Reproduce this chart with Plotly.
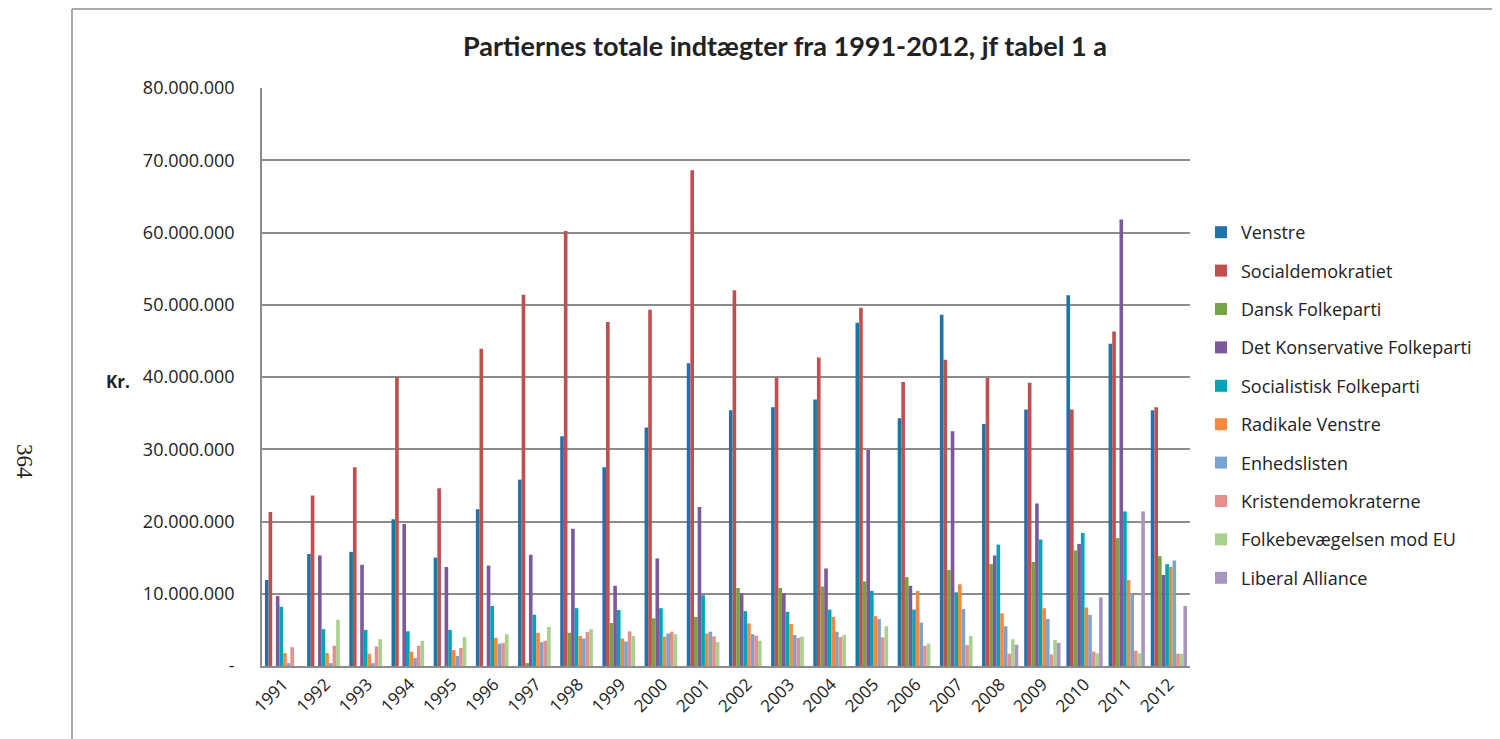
import plotly.graph_objects as go

years = [str(y) for y in range(1991, 2013)]

venstre = [11.9, 15.5, 15.8, 20.3, 15.0, 21.7, 25.8, 31.8, 27.5, 33.0, 41.9, 35.4, 35.8, 36.9, 47.5, 34.3, 48.6, 33.5, 35.5, 51.3, 44.6, 35.4]
socialdemokratiet = [21.3, 23.6, 27.5, 40.0, 24.6, 43.9, 51.4, 60.2, 47.6, 49.3, 68.6, 52.0, 39.9, 42.7, 49.6, 39.3, 42.4, 39.9, 39.2, 35.5, 46.3, 35.8]
dansk_folkeparti = [0, 0, 0, 0, 0, 0, 0.4, 4.6, 5.95, 6.6, 6.8, 10.8, 10.8, 11.0, 11.7, 12.3, 13.3, 14.1, 14.4, 16.0, 17.7, 15.2]
konservative = [9.7, 15.3, 14.0, 19.65, 13.7, 13.9, 15.4, 19.0, 11.1, 14.9, 22.0, 10.1, 10.1, 13.5, 29.9, 11.1, 32.5, 15.3, 22.5, 16.9, 61.8, 12.6]
sf = [8.2, 5.1, 5.0, 4.8, 5.0, 8.3, 7.1, 8.0, 7.75, 8.0, 9.8, 7.6, 7.5, 7.8, 10.4, 7.8, 10.2, 16.8, 17.5, 18.4, 21.4, 14.1]
radikale = [1.8, 1.8, 1.7, 2.0, 2.2, 3.9, 4.6, 4.15, 3.8, 4.06, 4.5, 5.9, 5.8, 6.8, 6.9, 10.4, 11.3, 7.3, 8.0, 8.1, 11.9, 13.7]
enhedslisten = [0.4, 0.4, 0.4, 1.1, 1.4, 3.1, 3.3, 3.8, 3.4, 4.5, 4.75, 4.4, 4.3, 4.75, 6.5, 6.0, 7.9, 5.5, 6.5, 7.06, 10.0, 14.6]
kristendemokraterne = [2.6, 2.8, 2.7, 2.8, 2.5, 3.2, 3.5, 4.7, 4.8, 4.75, 4.1, 4.2, 3.9, 4.0, 3.97, 2.8, 2.9, 1.7, 1.6, 2.0, 2.1, 1.7]
folkebevaegelsen = [0, 6.4, 3.7, 3.5, 4.0, 4.4, 5.4, 5.1, 4.15, 4.4, 3.3, 3.5, 4.06, 4.3, 5.5, 3.1, 4.15, 3.7, 3.6, 1.75, 1.75, 1.7]
liberal_alliance = [0, 0, 0, 0, 0, 0, 0, 0, 0, 0, 0, 0, 0, 0, 0, 0, 0, 2.95, 3.2, 9.5, 21.4, 8.3]

series_names = ["Venstre", "Socialdemokratiet", "Dansk Folkeparti", "Det Konservative Folkeparti",
                "Socialistisk Folkeparti", "Radikale Venstre", "Enhedslisten", "Kristendemokraterne",
                "Folkebevægelsen mod EU", "Liberal Alliance"]
series_values = [venstre, socialdemokratiet, dansk_folkeparti, konservative, sf, radikale,
                 enhedslisten, kristendemokraterne, folkebevaegelsen, liberal_alliance]
colors = ["#1F73A8", "#C0504D", "#76A346", "#7A5A9C", "#03A3B8", "#F7883E",
          "#7BA3CF", "#E5908E", "#A8D08E", "#A896BF"]

tick_vals = [0, 10e6, 20e6, 30e6, 40e6, 50e6, 60e6, 70e6, 80e6]
tick_text = ["-", "10.000.000", "20.000.000", "30.000.000", "40.000.000",
             "50.000.000", "60.000.000", "70.000.000", "80.000.000"]

fig = go.Figure()
for i, (name, vals, col) in enumerate(zip(series_names, series_values, colors)):
    fig.add_trace(go.Bar(
        x=years, y=[v * 1e6 for v in vals], name=name,
        marker=dict(color=col, line=dict(width=0)),
        legendgroup=f"g{i}",
    ))

# page offset (body margin) = 8px; reference pixel coords are converted below
OFF = 8
W, H = 1500 - OFF, 739 - OFF
L = 262 - OFF
T = 88 - OFF
PB = 666 - OFF          # plot bottom in figure px
PR = 1190 - OFF         # plot right in figure px
B = H - PB
R = W - PR
pw, ph = PR - L, PB - T

def px_x(x):
    return (x - OFF - L) / pw

def px_y(y):
    return (PB - (y - OFF)) / ph

fig.update_layout(
    width=W, height=H,
    margin=dict(l=L, r=R, t=T, b=B),
    paper_bgcolor="white", plot_bgcolor="white",
    barmode="group", bargap=0.14, bargroupgap=0,
    font=dict(family="Open Sans, sans-serif", color="#222222"),
    title=dict(text="<b>Partiernes totale indtægter fra 1991-2012, jf tabel 1 a</b>",
               xref="container", x=(785 - OFF) / W, xanchor="center",
               yref="container", y=1 - (47 - OFF) / H, yanchor="middle",
               font=dict(family="Lato, sans-serif", size=27, color="#222222")),
    xaxis=dict(type="category", tickangle=-45, tickfont=dict(size=17, color="#222222"),
               showline=True, linecolor="#8c8c8c", linewidth=1.5, ticks="", showgrid=False,
               mirror=False),
    yaxis=dict(range=[0, 80e6], tickvals=tick_vals, ticktext=tick_text,
               tickfont=dict(size=18, color="#222222"), showgrid=True,
               gridcolor="#8c8c8c", gridwidth=1.5, showline=True, linecolor="#8c8c8c",
               linewidth=1.5, ticks="", ticklen=0, zeroline=False, ticklabelstandoff=22),
    legend=dict(x=px_x(1201), y=px_y(214), xanchor="left", yanchor="top",
                font=dict(size=18, color="#222222"), tracegroupgap=12,
                itemwidth=30, bgcolor="rgba(0,0,0,0)"),
    showlegend=True,
)

fig.add_annotation(text="<b>Kr.</b>", x=px_x(118), y=px_y(381), xref="paper", yref="paper",
                   showarrow=False, xanchor="center", yanchor="middle",
                   font=dict(size=17, color="#222222"))
fig.add_annotation(text="364", x=px_x(25), y=px_y(461), xref="paper", yref="paper",
                   showarrow=False, textangle=90, xanchor="center", yanchor="middle",
                   font=dict(family="Liberation Serif, serif", size=23, color="#222222"))

# page border frame
fig.add_shape(type="line", xref="paper", yref="paper", x0=px_x(72), x1=px_x(72),
              y0=px_y(9), y1=px_y(739), line=dict(color="#8c8c8c", width=1.5))
fig.add_shape(type="line", xref="paper", yref="paper", x0=px_x(72), x1=px_x(1500),
              y0=px_y(9), y1=px_y(9), line=dict(color="#8c8c8c", width=1.5))

fig.write_html("out.html")
